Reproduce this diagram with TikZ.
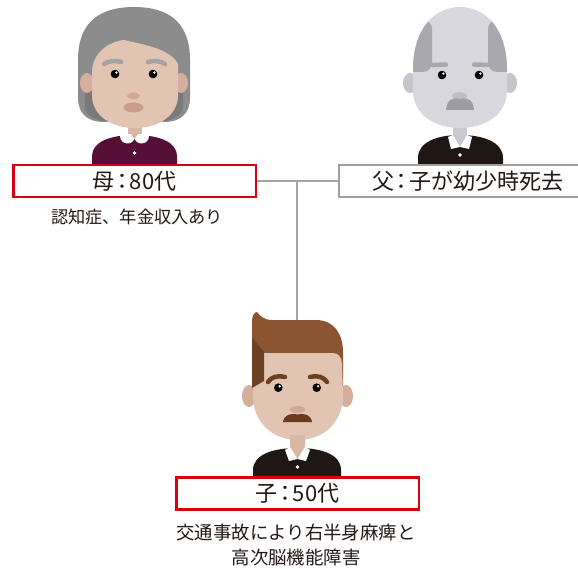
\documentclass[tikz,border=0pt]{standalone}
\usepackage{fontspec}
\newfontfamily\jp{Noto Sans CJK JP}
% palette
\definecolor{ink}{HTML}{231815}
\definecolor{boxred}{HTML}{D7000F}
\definecolor{boxgray}{HTML}{A0A0A0}
\definecolor{linkgray}{HTML}{A4A4A4}
\definecolor{skin}{HTML}{E1C4B1}
\definecolor{skindark}{HTML}{D6AE9E}
\definecolor{skinneck}{HTML}{D9B7A4}
\definecolor{nosepink}{HTML}{D3A797}
\definecolor{lips}{HTML}{C99C8B}
\definecolor{grayhair}{HTML}{8C8C8C}
\definecolor{grayhairdark}{HTML}{7A7A7A}
\definecolor{graybrow}{HTML}{A3A3A3}
\definecolor{plum}{HTML}{561038}
\definecolor{shirt}{HTML}{1F1714}
\definecolor{oldskin}{HTML}{D7D7DD}
\definecolor{oldhair}{HTML}{A8A8AE}
\definecolor{oldear}{HTML}{C5C5CB}
\definecolor{oldneck}{HTML}{C9C9CF}
\definecolor{oldnose}{HTML}{BEBEC4}
\definecolor{oldmust}{HTML}{9C9CA2}
\definecolor{hairbrown}{HTML}{8A5530}
\definecolor{hairbrowndark}{HTML}{6C4024}
\definecolor{mustbrown}{HTML}{6A3B21}
% tight full-width colon used in the name boxes
\newcommand{\tcolon}{\kern-3.5pt：\kern-3.5pt}
\begin{document}
\begin{tikzpicture}[x=1pt,y=-1pt,
  labelbox/.style={fill=white, line width=2.5pt, minimum height=32pt, inner sep=0pt,
    text=ink, font=\jp\fontsize{22}{26}\selectfont},
  redbox/.style={labelbox, draw=boxred},
  graybox/.style={labelbox, draw=boxgray},
  note/.style={text=ink, align=center, inner sep=0pt},
  link/.style={draw=linkgray, line width=2.2pt},
  eyeball/.style={fill=black},
  brow/.style={line width=4.5pt, line cap=round}]
\useasboundingbox (0,0) rectangle (578,569);

% ---------- mother ----------
\fill[grayhair] (78,60) .. controls (78,20) and (102,7) .. (134,7) .. controls (166,7) and (190,20) .. (190,60)
  -- (190,98) .. controls (190,114) and (180,122) .. (164,122) -- (104,122) .. controls (88,122) and (78,114) .. (78,98) -- cycle;
\fill[grayhairdark] (85,85) -- (183,85) -- (183,105) .. controls (183,116) and (173,121) .. (160,121)
  -- (108,121) .. controls (95,121) and (85,116) .. (85,105) -- cycle;
\fill[skindark] (87,83) ellipse[x radius=7, y radius=10];
\fill[skindark] (181,83) ellipse[x radius=7, y radius=10];
\fill[skinneck] (127.5,118) rectangle (141.5,140);
\fill[skin] (92,70) .. controls (94,50) and (112,41) .. (124,40) .. controls (140,44) and (170,48) .. (178,64)
  -- (178,95) .. controls (178,116) and (158,128) .. (135,128) .. controls (112,128) and (92,116) .. (92,95) -- cycle;
\draw[graybrow, brow] (104,64) .. controls (108,61) and (116,60) .. (121,62);
\draw[graybrow, brow] (148,62) .. controls (153,60) and (161,61) .. (165,64);
\fill[eyeball] (115,74) circle[radius=4.3];
\fill[eyeball] (153,74) circle[radius=4.3];
\fill[white] (116.4,72.6) circle[radius=1.3];
\fill[white] (154.4,72.6) circle[radius=1.3];
\fill[nosepink] (133.5,96) ellipse[x radius=6.5, y radius=3.3];
\fill[lips] (133.5,107.5) ellipse[x radius=10, y radius=5];
\fill[plum] (92,164) -- (92,156) .. controls (92,142) and (110,135) .. (134.5,135)
  .. controls (159,135) and (177,142) .. (177,156) -- (177,164) -- cycle;
\begin{scope}
  \clip (115,135) rectangle (155,150);
  \fill[white] (127.5,136) circle[radius=7.5];
  \fill[white] (141.5,136) circle[radius=7.5];
\end{scope}
\fill[skinneck] (131,134) -- (138,134) -- (134.5,139) -- cycle;
\fill[white] (134.5,153) circle[radius=1.8];

% ---------- father ----------
\fill[oldear] (410,83) ellipse[x radius=7, y radius=10];
\fill[oldear] (510,83) ellipse[x radius=7, y radius=10];
\fill[oldneck] (453,120) -- (467,120) -- (467,139) -- (460,147) -- (453,139) -- cycle;
\fill[shirt] (418,166) -- (418,158) .. controls (418,142) and (437,135) .. (460,135)
  .. controls (483,135) and (503,142) .. (503,158) -- (503,166) -- cycle;
\fill[oldneck] (453,130) -- (467,130) -- (467,139) -- (460,147) -- (453,139) -- cycle;
\fill[white] (448,137) -- (453,135) -- (460,147) -- (451,149) -- cycle;
\fill[white] (472,137) -- (467,135) -- (460,147) -- (469,149) -- cycle;
\fill[white] (460,155) circle[radius=1.8];
\begin{scope}
  \path[clip] (413,70) .. controls (413,28) and (435,7) .. (460,7) .. controls (485,7) and (507,28) .. (507,70)
    -- (507,90) .. controls (507,115) and (485,128) .. (460,128) .. controls (435,128) and (413,115) .. (413,90) -- cycle;
  \fill[oldskin] (400,0) rectangle (520,130);
  \fill[oldhair, rounded corners=9pt] (395,20) rectangle (432,72);
  \fill[oldhair, rounded corners=9pt] (488,20) rectangle (525,72);
\end{scope}
\draw[oldhair, brow] (432,65) -- (446,64.5);
\draw[oldhair, brow] (474,64.5) -- (488,65);
\fill[eyeball] (442,75) circle[radius=4.3];
\fill[eyeball] (479,75) circle[radius=4.3];
\fill[white] (443.4,73.6) circle[radius=1.3];
\fill[white] (480.4,73.6) circle[radius=1.3];
\fill[oldnose] (459.5,96) ellipse[x radius=7.5, y radius=3.8];
\fill[oldmust] (446,110) .. controls (447,100) and (452,97) .. (460,99)
  .. controls (468,97) and (473,100) .. (474,110) -- cycle;

% ---------- son ----------
\fill[skindark] (249,396) ellipse[x radius=7, y radius=11];
\fill[skindark] (346,396) ellipse[x radius=7, y radius=11];
\fill[hairbrown] (252,386) -- (252,322) .. controls (252,316) and (254,312) .. (257,312)
  .. controls (260,316) and (264,320) .. (272,320) -- (316,320) .. controls (334,320) and (343,334) .. (343,352)
  -- (343,386) -- cycle;
\fill[skin] (263,353) -- (333,353) .. controls (338,353) and (342,357) .. (342,364) -- (343,395)
  .. controls (343,424) and (322,440) .. (298,440) .. controls (274,440) and (253,424) .. (253,395)
  -- (253,365) .. controls (253,358) and (257,353) .. (263,353) -- cycle;
\fill[hairbrowndark] (252,338) -- (264,352) -- (264,381) -- (252,388) -- cycle;
\draw[hairbrowndark, brow] (268,382) .. controls (271,377) and (278,375) .. (285,377);
\draw[hairbrowndark, brow] (310,377) .. controls (317,375) and (324,377) .. (327,382);
\fill[eyeball] (278.3,387.7) circle[radius=4.3];
\fill[eyeball] (316.7,387.7) circle[radius=4.3];
\fill[white] (279.7,386.3) circle[radius=1.3];
\fill[white] (318.1,386.3) circle[radius=1.3];
\fill[nosepink] (297.5,409.5) ellipse[x radius=7.5, y radius=3.5];
\fill[mustbrown] (283,422) .. controls (284,415) and (290,413) .. (297.5,414.5)
  .. controls (305,413) and (311,415) .. (312,422) -- cycle;
\fill[skinneck] (290,435) -- (305,435) -- (305,450) -- (297.5,459) -- (290,450) -- cycle;
\fill[shirt] (253,479) -- (253,470) .. controls (253,455) and (272,448) .. (297.5,448)
  .. controls (323,448) and (341,455) .. (341,470) -- (341,479) -- cycle;
\fill[skinneck] (290,445) -- (305,445) -- (305,450) -- (297.5,459) -- (290,450) -- cycle;
\fill[white] (285,450) -- (290,447) -- (297.5,459) -- (289,461) -- cycle;
\fill[white] (310,450) -- (305,447) -- (297.5,459) -- (306,461) -- cycle;
\fill[white] (297.5,467) circle[radius=1.8];

% ---------- labels ----------
\node[redbox, minimum width=242.5pt] (mom) at (134.5,181) {母\tcolon 80代};
\node[graybox, minimum width=256.75pt] (dad) at (467.6,181) {父\tcolon 子が幼少時死去};
\node[redbox, minimum width=242.5pt] (kid) at (297.5,493.6) {子\tcolon 50代};

\node[note, font=\jp\fontsize{17.2}{22}\selectfont] (momnote) at (137,217) {認知症、年金収入あり};
\node[note, font=\jp\fontsize{18.4}{25}\selectfont] (kidnote) at (296,544.5)
  {交通事故により右半身麻痺と\\高次脳機能障害};

% ---------- family links ----------
\coordinate (tee) at (297,181);
\coordinate (kidtop) at (297,320);
\draw[link] (mom.east) -- (dad.west);
\draw[link] (tee) -- (kidtop);
\end{tikzpicture}
\end{document}
